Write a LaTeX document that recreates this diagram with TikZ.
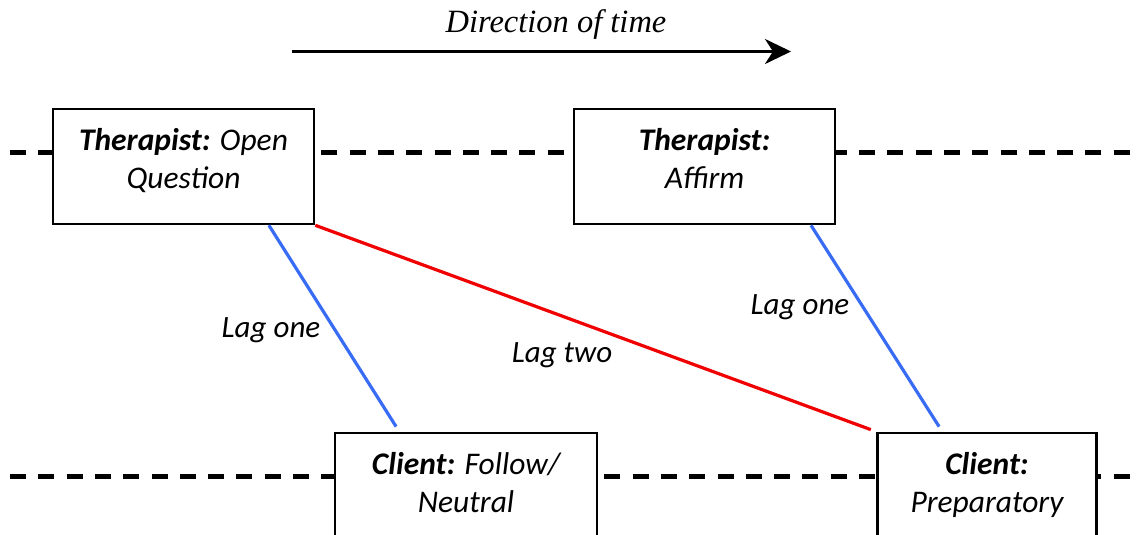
\documentclass[tikz,border=0pt]{standalone}
\usepackage{fontspec}
\setmainfont{Carlito}
\newfontfamily\timesfont{Liberation Serif}
\usetikzlibrary{calc,arrows.meta}

\definecolor{lagblue}{RGB}{56,108,245}
\definecolor{lagred}{RGB}{240,0,0}

\tikzset{
  turnbox/.style={draw=black, line width=2.6pt, fill=white,
    minimum width=261pt, minimum height=115pt, inner sep=0pt,
    text height=52pt, text depth=8.6pt,
    align=center, font=\fontsize{31.5}{37.5}\selectfont\itshape},
  timeline/.style={line width=4.5pt, dash pattern=on 16pt off 12.3pt},
  lagline/.style={line width=3.2pt},
  laglabel/.style={font=\fontsize{31}{36}\selectfont\itshape, anchor=base, inner sep=0pt}
}

\begin{document}
\begin{tikzpicture}[x=1pt, y=-1pt]
  \useasboundingbox (0,0) rectangle (1141,535);
  \clip (0,0) rectangle (1141,535);

  % time arrow and caption
  \node[font=\fontsize{32.5}{38}\selectfont\timesfont\itshape, anchor=base, inner sep=0pt]
    (caption) at (556,32.5) {Direction of time};
  \coordinate (tstart) at (292,51.5);
  \coordinate (tend) at (791,51.5);
  \draw[line width=3.3pt, -{Stealth[length=26pt, width=25pt, inset=8pt]}] (tstart) -- (tend);

  % therapist and client timelines
  \coordinate (top0) at (10,152.7);
  \coordinate (top1) at (1141,152.7);
  \coordinate (bot0) at (10,476.7);
  \coordinate (bot1) at (1141,476.7);
  \draw[timeline] (top0) -- (top1);
  \draw[timeline] (bot0) -- (bot1);

  % utterance boxes
  \node[turnbox] (t1) at (183.5,166.5) {\textbf{Therapist:} Open\\Question};
  \node[turnbox] (t2) at (704.5,166.5) {\textbf{Therapist:}\\Affirm};
  \node[turnbox, minimum width=262pt] (c1) at (466,490.5) {\textbf{Client:} Follow/\\Neutral};
  \node[turnbox, minimum width=218.5pt] (c2) at (987,490.5) {\textbf{Client:}\\Preparatory};

  % lag connections
  \draw[lagline, lagblue, shorten >=6pt]
    ($(t1.south west)!0.824!(t1.south east)$) -- ($(c1.north west)!0.248!(c1.north east)$);
  \draw[lagline, lagred, shorten >=6pt]
    (t1.south east) -- (c2.north west);
  \draw[lagline, lagblue, shorten >=6pt]
    ($(t2.south west)!0.904!(t2.south east)$) -- ($(c2.north west)!0.298!(c2.north east)$);

  % lag labels
  \node[laglabel] (lag1a) at (271,337) {Lag one};
  \node[laglabel] (lag2) at (562,362.7) {Lag two};
  \node[laglabel] (lag1b) at (800,314) {Lag one};
\end{tikzpicture}
\end{document}
